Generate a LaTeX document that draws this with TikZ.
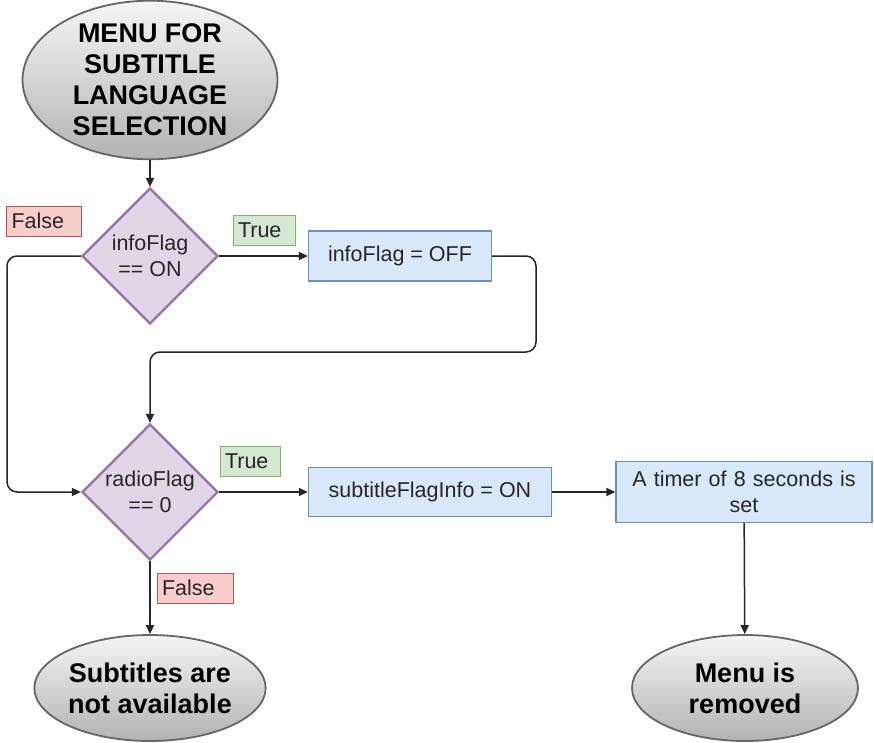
\documentclass[tikz,border=0pt]{standalone}
\usepackage{fontspec}
\setmainfont{Liberation Sans}
\usetikzlibrary{shapes.geometric,arrows.meta}

\definecolor{termfill}{HTML}{B3B3B3}
\definecolor{termline}{HTML}{666666}
\definecolor{decfill}{HTML}{E1D5E7}
\definecolor{decline}{HTML}{9673A6}
\definecolor{procfill}{HTML}{DAE8FC}
\definecolor{procline}{HTML}{6C8EBF}
\definecolor{truefill}{HTML}{D5E8D4}
\definecolor{trueline}{HTML}{82B366}
\definecolor{falsefill}{HTML}{F8CECC}
\definecolor{falseline}{HTML}{B85450}

\begin{document}
\begin{tikzpicture}[
        x=1pt, y=-1pt,
        every node/.style={font=\fontsize{21.5}{26}\selectfont, text=black!85},
        terminal/.style={ellipse,draw=termline,line width=1.8pt,top color=white!96!black,bottom color=termfill,
            inner sep=0pt,align=center,font=\fontsize{27}{31}\selectfont\bfseries,text=black},
        decision/.style={diamond,draw=decline,fill=decfill,line width=2.2pt,inner sep=0pt,
            minimum width=136,minimum height=136,align=center},
        process/.style={rectangle,draw=procline,fill=procfill,line width=1.3pt,inner sep=0pt,align=center},
        truelabel/.style={rectangle,draw=trueline,fill=truefill,line width=1pt,inner xsep=5,inner ysep=0pt,
            minimum height=30,align=left},
        falselabel/.style={rectangle,draw=falseline,fill=falsefill,line width=1pt,inner xsep=5,inner ysep=0pt,
            minimum height=30,align=left},
        link/.style={draw=black!85,line width=1.5pt,-{Triangle[length=9pt,width=8pt]}},
        ]

        \useasboundingbox (0,0) rectangle (874,742);

        \node (menu) at (150, 80) [terminal, minimum width=255, minimum height=150] {MENU FOR\\SUBTITLE\\LANGUAGE\\SELECTION};
        \node (info) at (150, 256) [decision] {infoFlag\\== ON};
        \node (infoOff) at (400, 256) [process, minimum width=183, minimum height=50] {infoFlag = OFF};
        \node (radio) at (150, 492) [decision] {radioFlag\\== 0};
        \node (subOn) at (430, 492) [process, minimum width=243, minimum height=49] {subtitleFlagInfo = ON};
        \node (timer) at (744, 492) [process, minimum width=256, minimum height=61, text width=250] {A timer of 8 seconds is\\set};
        \node (noSubs) at (150, 688) [terminal, minimum width=228, minimum height=106] {Subtitles are\\not available};
        \node (removed) at (745, 688) [terminal, minimum width=226, minimum height=106] {Menu is\\removed};

        \node (true1) at (264, 230) [truelabel, text width=52] {True};
        \node (false1) at (44, 221) [falselabel, text width=65] {False};
        \node (true2) at (250, 461) [truelabel, text width=50] {True};
        \node (false2) at (195, 588) [falselabel, text width=66] {False};

        \coordinate (back) at (536, 352);
        \coordinate (skip) at (7, 492);

        \draw[link] (menu) -- (info);
        \draw[link] (info) -- (infoOff);
        \draw[link, rounded corners=10pt] (infoOff.east) -| (back) -| (radio.north);
        \draw[link, rounded corners=10pt] (info.west) -| (skip) -- (radio.west);
        \draw[link] (radio) -- (subOn);
        \draw[link] (subOn) -- (timer);
        \draw[link] (timer) -- (removed);
        \draw[link] (radio) -- (noSubs);
      \end{tikzpicture}
\end{document}
